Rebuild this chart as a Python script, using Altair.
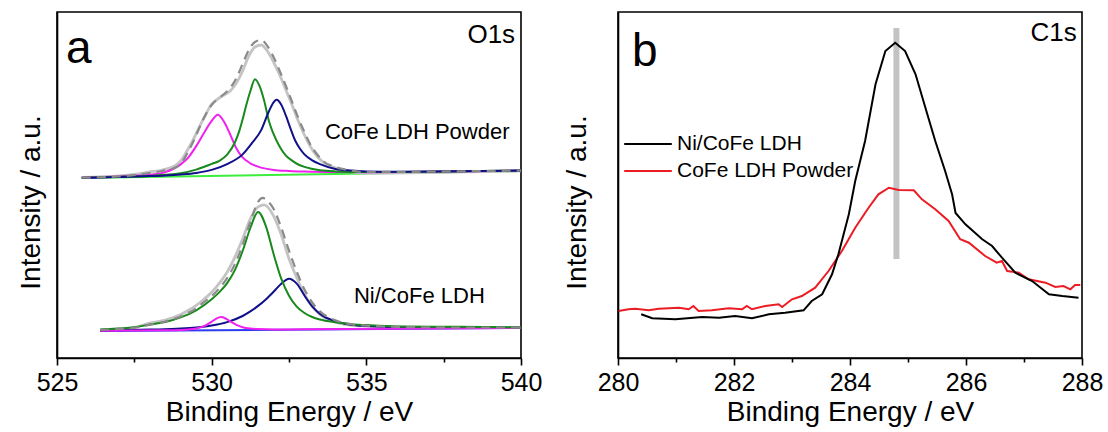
import altair as alt
import pandas as pd

FONT = "Liberation Sans"

# ---------------- Panel a : O1s ----------------
# upper spectrum: CoFe LDH Powder
pw_bg_E = [525.8, 540.0]
pw_bg_I = [180.0, 187.0]

pw_mag_E = [525.8, 527.0, 528.0, 528.5, 529.0, 529.25, 529.5, 529.75, 530.0, 530.2, 530.4, 530.6,
            530.8, 531.0, 531.25, 531.5, 532.0, 532.5, 533.0, 534.0, 535.0, 537.0, 540.0]
pw_mag_I = [180.5, 181.6, 183.3, 185.9, 193.6, 200.7, 211.9, 225.0, 237.1, 243.2, 236.3, 223.4,
            209.5, 200.6, 194.7, 191.4, 188.1, 187.0, 186.4, 185.9, 185.8, 186.3, 187.4]

pw_grn_E = [525.8, 527.0, 528.0, 528.5, 529.0, 529.5, 530.0, 530.25, 530.5, 530.75, 530.9, 531.0,
            531.1, 531.25, 531.4, 531.55, 531.7, 531.85, 532.0, 532.2, 532.4, 532.6, 532.8, 533.0,
            533.5, 534.0, 535.0, 537.0, 540.0]
pw_grn_I = [180.3, 181.2, 182.1, 183.2, 184.8, 188.4, 194.1, 197.2, 203.4, 215.5, 227.6, 238.6,
            250.7, 266.7, 278.8, 271.9, 257.0, 237.0, 224.1, 211.2, 202.3, 197.4, 193.5, 191.1,
            187.7, 186.6, 186.0, 186.3, 187.4]

pw_blu_E = [525.8, 527.0, 528.0, 528.5, 529.0, 529.5, 530.0, 530.5, 531.0, 531.3, 531.6, 531.8,
            531.95, 532.1, 532.25, 532.4, 532.55, 532.7, 532.85, 533.0, 533.25, 533.5, 534.0, 534.5,
            535.0, 536.0, 537.0, 540.0]
pw_blu_I = [180.0, 180.9, 181.9, 182.6, 183.6, 185.1, 188.1, 193.9, 203.6, 214.8, 227.9, 243.0,
            253.1, 258.2, 253.2, 242.3, 229.4, 217.5, 209.5, 203.6, 197.7, 193.9, 189.1, 187.4,
            186.6, 186.3, 186.4, 187.5]

pw_raw_E = [525.8, 527.0, 527.5, 528.0, 528.4, 528.8, 529.0, 529.2, 529.4, 529.6, 529.8, 530.0,
            530.2, 530.4, 530.6, 530.8, 531.0, 531.2, 531.4, 531.6, 531.8, 532.0, 532.2, 532.4,
            532.6, 532.8, 533.0, 533.2, 533.4, 533.6, 534.0, 534.4, 535.0, 540.0]
pw_raw_I = [180.5, 182.0, 183.5, 186.0, 188.0, 192.0, 197.0, 207.0, 218.0, 231.0, 243.0, 254.0,
            259.0, 263.0, 267.0, 275.0, 287.0, 302.0, 311.0, 313.0, 307.0, 296.0, 283.0, 268.0,
            253.0, 237.0, 223.0, 211.0, 202.0, 196.0, 190.0, 187.0, 185.0, 187.2]

pw_fit_E = pw_raw_E
pw_fit_I = [180.3, 181.5, 183.0, 185.0, 187.0, 190.0, 194.0, 204.0, 216.0, 230.0, 243.0, 253.0,
            259.0, 264.0, 270.0, 280.0, 294.0, 308.0, 316.0, 318.0, 312.0, 301.0, 287.0, 272.0,
            256.0, 240.0, 226.0, 213.0, 204.0, 197.0, 191.0, 188.0, 186.0, 187.5]

# lower spectrum: Ni/CoFe LDH
ni_bg_E = [526.4, 540.0]
ni_bg_I = [27.0, 30.0]

ni_mag_E = [526.4, 528.5, 529.0, 529.25, 529.5, 529.75, 530.0, 530.15, 530.3, 530.45, 530.6,
            530.8, 531.0, 531.25, 531.5, 532.0, 533.0, 540.0]
ni_mag_I = [27.2, 27.7, 28.1, 28.6, 29.5, 31.8, 36.3, 39.4, 40.9, 39.5, 36.6,
            33.1, 30.8, 29.5, 29.0, 28.6, 28.65, 30.2]

ni_grn_E = [526.4, 527.0, 527.5, 528.0, 528.5, 529.0, 529.5, 530.0, 530.25, 530.5, 530.75, 531.0,
            531.25, 531.5, 531.75, 532.0, 532.25, 532.5, 532.75, 533.0, 533.25, 533.5, 534.0,
            534.5, 535.0, 536.0, 538.0, 540.0]
ni_grn_I = [28.5, 29.6, 30.7, 33.4, 36.0, 40.6, 47.7, 58.8, 65.9, 74.9, 87.9, 107.0,
            130.0, 146.1, 132.2, 104.2, 79.3, 62.3, 51.4, 45.0, 41.0, 38.5, 35.7,
            33.8, 32.9, 31.6, 31.2, 30.5]

ni_blu_E = [526.4, 528.0, 529.0, 529.5, 530.0, 530.5, 531.0, 531.25, 531.5, 531.75, 532.0, 532.25,
            532.5, 532.75, 533.0, 533.25, 533.5, 534.0, 534.5, 535.0, 536.0, 538.0, 540.0]
ni_blu_I = [27.3, 28.4, 29.4, 30.5, 32.4, 35.9, 42.0, 46.6, 52.1, 58.6, 66.2, 74.3,
            79.3, 74.4, 62.5, 51.6, 44.1, 36.7, 33.3, 31.9, 30.6, 30.2, 30.4]

ni_raw_E = [526.4, 527.0, 527.5, 528.0, 528.5, 529.0, 529.25, 529.5, 529.75, 530.0, 530.25, 530.5,
            530.75, 531.0, 531.25, 531.5, 531.7, 532.0, 532.25, 532.5, 532.75, 533.0, 533.25,
            533.5, 534.0, 534.5, 535.0, 536.0, 538.0, 540.0]
ni_raw_I = [28.0, 29.1, 30.7, 34.9, 38.0, 43.6, 47.7, 52.7, 58.8, 65.8, 74.9, 85.9,
            100.9, 119.0, 139.1, 151.1, 153.1, 142.2, 123.3, 99.3, 80.4, 63.5, 51.5,
            43.6, 35.7, 32.8, 31.9, 31.1, 30.5, 30.5]

ni_fit_E = [526.4, 527.0, 527.5, 528.0, 528.5, 529.0, 529.25, 529.5, 529.75, 530.0, 530.25, 530.5,
            530.75, 531.0, 531.25, 531.5, 531.65, 531.8, 532.0, 532.25, 532.5, 532.75, 533.0,
            533.25, 533.5, 534.0, 534.5, 535.0, 536.0, 538.0, 540.0]
ni_fit_I = [28.0, 29.1, 30.2, 33.4, 36.5, 41.6, 45.2, 49.7, 55.8, 61.8, 69.9, 79.9,
            93.9, 113.0, 136.1, 156.1, 160.1, 157.2, 149.2, 130.3, 107.3, 86.4, 68.5,
            55.5, 46.6, 37.7, 33.8, 32.4, 31.1, 30.5, 30.5]

# ---------------- Panel b : C1s ----------------
ni_c_E = [280.40, 280.59, 280.99, 281.45, 281.74, 282.02, 282.31, 282.60, 282.88, 283.20, 283.34,
          283.52, 283.69, 283.80, 283.98, 284.09, 284.26, 284.44, 284.61, 284.78, 284.95, 285.13,
          285.30, 285.47, 285.64, 285.76, 285.82, 285.99, 286.28, 286.45, 286.62, 286.85, 287.14,
          287.43, 287.66, 287.94]
ni_c_I = [43.7, 39.7, 38.7, 41.0, 40.3, 42.0, 39.7, 43.7, 45.3, 47.7, 57.0,
          63.7, 83.7, 103.7, 143.7, 177.0, 217.0, 273.7, 307.0, 315.3, 307.0, 283.7,
          250.3, 217.0, 187.0, 163.7, 145.0, 133.7, 118.7, 112.0, 100.3, 85.3, 77.0,
          63.7, 62.0, 60.3]

pw_c_E = [280.01, 280.18, 280.30, 280.53, 280.70, 281.05, 281.22, 281.30, 281.39, 281.62, 281.91,
          282.14, 282.22, 282.31, 282.54, 282.77, 282.83, 283.00, 283.17, 283.40, 283.63, 283.86,
          284.09, 284.32, 284.49, 284.67, 284.84, 285.10, 285.24, 285.47, 285.70, 285.90, 286.05,
          286.33, 286.53, 286.62, 286.71, 286.91, 287.08, 287.37, 287.54, 287.68, 287.80, 287.88,
          287.97]
pw_c_I = [47.0, 48.7, 49.3, 47.7, 49.3, 50.3, 48.7, 52.0, 47.0, 47.7, 49.7,
          48.7, 52.0, 48.7, 52.0, 53.7, 51.0, 58.7, 62.0, 70.3, 87.0, 107.0,
          130.3, 150.3, 163.7, 170.3, 168.0, 167.7, 158.7, 148.7, 137.0, 118.7, 115.3,
          102.0, 95.3, 97.0, 87.0, 85.3, 78.7, 75.3, 71.0, 72.0, 68.7, 73.0,
          73.0]

marker_E = [284.8]
marker_I_low = [99.0]
marker_I_high = [330.0]

left_ticks = [525, 527.5, 530, 532.5, 535, 537.5, 540]
right_ticks = [280, 281, 282, 283, 284, 285, 286, 287, 288]

series_names = ["Ni/CoFe LDH", "CoFe LDH Powder"]
series_colors = ["#000000", "#ec1c24"]


def curve(E, I, name, color):
    return pd.DataFrame({"E": E, "I": I, "curve": name, "color": color})


bg_df = pd.concat([
    curve(pw_bg_E, pw_bg_I, "pw_bg", "#3ded3d"),
    curve(ni_bg_E, ni_bg_I, "ni_bg", "#2b3cf0"),
])
raw_df = pd.concat([
    curve(pw_raw_E, pw_raw_I, "pw_raw", "#c4c4c4"),
    curve(ni_raw_E, ni_raw_I, "ni_raw", "#c4c4c4"),
])
comp_df = pd.concat([
    curve(ni_blu_E, ni_blu_I, "ni_blu", "#10108a"),
    curve(ni_mag_E, ni_mag_I, "ni_mag", "#f020f0"),
    curve(ni_grn_E, ni_grn_I, "ni_grn", "#18891c"),
    curve(pw_mag_E, pw_mag_I, "pw_mag", "#f020f0"),
    curve(pw_grn_E, pw_grn_I, "pw_grn", "#18891c"),
    curve(pw_blu_E, pw_blu_I, "pw_blu", "#10108a"),
])
fit_df = pd.concat([
    curve(pw_fit_E, pw_fit_I, "pw_fit", "#8a8a8a"),
    curve(ni_fit_E, ni_fit_I, "ni_fit", "#8a8a8a"),
])

W, H = 464, 346
Y_DOMAIN = [0, 346]

left_xs = alt.Scale(domain=[525, 540], nice=False, zero=False)
left_ys = alt.Scale(domain=Y_DOMAIN, nice=False)

xa = alt.X("E:Q", scale=left_xs,
           axis=alt.Axis(values=left_ticks, title="Binding Energy / eV", format="d",
                         labelExpr="datum.value % 5 === 0 ? datum.label : ''",
                         tickSize={"condition": {"test": "datum.value % 5 === 0", "value": 7}, "value": 4}))
ya_left = alt.Y("I:Q", scale=left_ys,
                axis=alt.Axis(title="Intensity / a.u.", titlePadding=12, titleY=190))


def line_layer(df, width, dash=None, interp="monotone"):
    kw = dict(strokeWidth=width, interpolate=interp)
    if dash is not None:
        kw["strokeDash"] = dash
    return alt.Chart(df).mark_line(**kw).encode(
        x=xa, y=ya_left,
        color=alt.Color("color:N", scale=None, legend=None),
        detail="curve:N",
    )


def text_layer(E, I, label, size, align, xenc, yenc):
    df = pd.DataFrame({"E": [E], "I": [I], "t": [label]})
    return alt.Chart(df).mark_text(font=FONT, fontSize=size, align=align, baseline="alphabetic",
                                    color="black").encode(
        x=alt.X("E:Q", scale=xenc), y=alt.Y("I:Q", scale=yenc), text="t:N")


left = alt.layer(
    line_layer(bg_df, 2, interp="linear"),
    line_layer(raw_df, 2.8),
    line_layer(comp_df, 2),
    line_layer(fit_df, 2.2, dash=[9, 6]),
    text_layer(525.29, 295, "a", 46, "left", left_xs, left_ys),
    text_layer(539.81, 315, "O1s", 26, "right", left_xs, left_ys),
    text_layer(533.66, 219, "CoFe LDH Powder", 22, "left", left_xs, left_ys),
    text_layer(534.6, 55, "Ni/CoFe LDH", 22, "left", left_xs, left_ys),
).properties(width=W, height=H)

# right panel
c_df = pd.concat([
    pd.DataFrame({"E": pw_c_E, "I": pw_c_I, "sample": series_names[1]}),
    pd.DataFrame({"E": ni_c_E, "I": ni_c_I, "sample": series_names[0]}),
])
mk_df = pd.DataFrame({"E": marker_E, "lo": marker_I_low, "hi": marker_I_high})

right_xs = alt.Scale(domain=[280, 288], nice=False, zero=False)
right_ys = alt.Scale(domain=Y_DOMAIN, nice=False)
xb = alt.X("E:Q", scale=right_xs,
           axis=alt.Axis(values=right_ticks, title="Binding Energy / eV", format="d",
                         labelExpr="datum.value % 2 === 0 ? datum.label : ''",
                         tickSize={"condition": {"test": "datum.value % 2 === 0", "value": 7}, "value": 4}))
yb = alt.Y("I:Q", scale=right_ys, axis=alt.Axis(title="Intensity / a.u.", titlePadding=27, titleY=190))

marker = alt.Chart(mk_df).mark_rule(color="#c3c3c3", strokeWidth=6).encode(
    x=alt.X("E:Q", scale=right_xs), y=alt.Y("lo:Q", scale=right_ys), y2="hi:Q")

lines_b = alt.Chart(c_df).mark_line(strokeWidth=2).encode(
    x=xb, y=yb,
    color=alt.Color("sample:N",
                    scale=alt.Scale(domain=series_names, range=series_colors),
                    sort=series_names,
                    legend=alt.Legend(title=None, orient="none", legendX=15, legendY=117,
                                      symbolType="M-1.7,0H1.7", symbolSize=784, symbolStrokeWidth=2,
                                      labelFont=FONT, labelFontSize=21, labelColor="black",
                                      labelLimit=400, labelOffset=14, rowPadding=2, padding=0)),
)

right = alt.layer(
    marker,
    lines_b,
    text_layer(280.24, 292, "b", 46, "left", right_xs, right_ys),
    text_layer(287.91, 317, "C1s", 26, "right", right_xs, right_ys),
).properties(width=W, height=H)

chart = alt.hconcat(left, right, spacing=97, bounds="flush").resolve_scale(
    color="independent"
).properties(
    padding={"left": 16, "top": 11, "right": 4, "bottom": 4}
).configure_view(
    stroke="black", strokeWidth=1.6
).configure_axis(
    grid=False, domainColor="black", domainWidth=1.6, tickColor="black", tickWidth=1.6,
    labelFont=FONT, labelFontSize=25, labelColor="black", labelPadding=5, labelFlush=False,
    labelOverlap=False,
    titleFont=FONT, titleFontSize=28, titleFontWeight="normal", titleColor="black", titlePadding=3,
).configure_axisY(
    ticks=False, labels=False, domain=True
)

chart.save("out.html", embed_options={"renderer": "svg", "actions": False})
